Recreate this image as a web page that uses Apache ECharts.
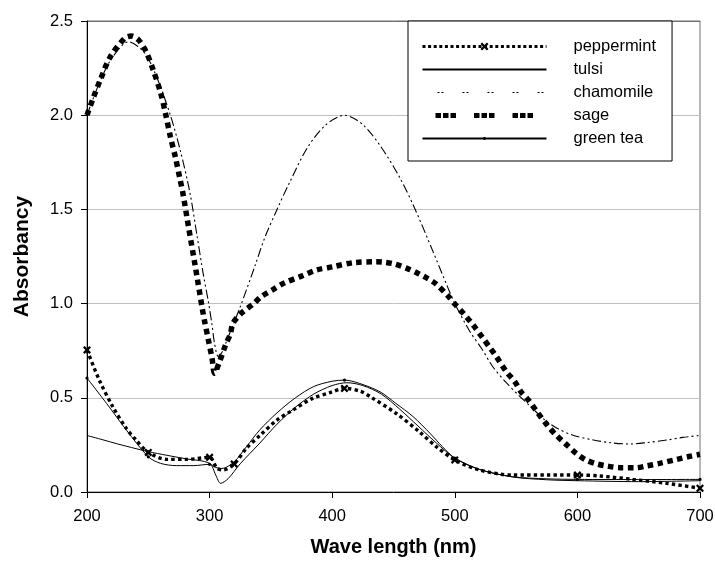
<!DOCTYPE html>
<html><head><meta charset="utf-8">
<script src="https://cdn.jsdelivr.net/npm/echarts@6/dist/echarts.min.js"></script>
<style>html,body{margin:0;padding:0;background:#fff}#c{width:715px;height:570px}</style>
</head><body><div id="c"></div>
<script>
// ---- data ----
const seriesNames = ['peppermint', 'tulsi', 'chamomile', 'sage', 'green tea'];

const pepX = [200,210,221,232,240,250,265,281,300,306,311,320,330,341,355,368,384,398,410,423,431,452,471,485,500,520,547,575,600,618,645,673,700];
const pepY = [0.754,0.594,0.453,0.338,0.276,0.21,0.173,0.173,0.184,0.126,0.117,0.149,0.232,0.30,0.382,0.435,0.497,0.527,0.55,0.535,0.506,0.418,0.32,0.24,0.17,0.117,0.09,0.09,0.09,0.085,0.067,0.046,0.02];
const pepMarks = [200,250,300,320,410,500,600,700];

const tulX = [200,213,225,240,250,265,280,300,305,309,315,325,341,355,370,385,400,412,425,440,455,470,485,500,520,547,575,600,650,700];
const tulY = [0.30,0.277,0.255,0.23,0.214,0.195,0.177,0.152,0.09,0.046,0.07,0.15,0.26,0.36,0.45,0.52,0.565,0.58,0.565,0.52,0.44,0.35,0.26,0.18,0.12,0.08,0.065,0.06,0.055,0.06];

const chaX = [200,210,220,234,247,257,268,276,284,290,295,299,302,304,307,310,315,325,337,345,355,365,380,395,410,425,440,455,467,482,494,500,512,522,531,542,553,564,572,583,597,613,629,643,656,673,686,700];
const chaY = [2.0,2.17,2.3,2.39,2.33,2.2,2.0,1.815,1.587,1.35,1.15,1.01,0.886,0.79,0.72,0.74,0.82,0.983,1.2,1.35,1.5,1.64,1.83,1.95,2.0,1.95,1.83,1.67,1.51,1.28,1.09,1.0,0.855,0.76,0.665,0.58,0.508,0.44,0.39,0.34,0.30,0.276,0.26,0.255,0.262,0.276,0.29,0.30];

const sagX = [200,205,211,219,231,236,242,248,254,260,264,268,272,276,278,283,288,294,296,299,302,304,308,313,317,319,326,336,342,352,361,375,387,401,417,435,442,451,461,469,476,484,495,500,507,515,523,529,534,542,549,554,560,567,576,583,590,599,607,616,624,635,648,656,667,681,690,700];
const sagY = [2.0,2.09,2.19,2.31,2.41,2.42,2.40,2.34,2.24,2.12,2.01,1.886,1.78,1.656,1.594,1.40,1.21,0.975,0.904,0.807,0.71,0.63,0.69,0.78,0.84,0.895,0.95,1.0,1.037,1.076,1.11,1.146,1.178,1.196,1.217,1.222,1.22,1.21,1.187,1.164,1.14,1.108,1.037,0.998,0.948,0.886,0.816,0.763,0.718,0.639,0.585,0.532,0.488,0.426,0.35,0.30,0.258,0.205,0.17,0.149,0.138,0.129,0.129,0.138,0.152,0.173,0.187,0.20];

const gtX = [200,216,232,250,260,273,287,300,305,310,320,330,341,355,370,385,400,410,422,439,452,466,480,490,500,520,547,575,600,650,700];
const gtY = [0.605,0.47,0.33,0.187,0.152,0.14,0.14,0.147,0.13,0.125,0.16,0.24,0.33,0.42,0.50,0.56,0.588,0.594,0.577,0.532,0.47,0.40,0.31,0.24,0.18,0.12,0.081,0.07,0.067,0.066,0.067];
const gtMarks = [200,250,300,410,500,600,700];

const xTicks = {min: 200, max: 700, step: 100};
const yTicks = {min: 0, max: 2.5, step: 0.5};

// ---- chart ----
function build(xs, ys, marks) {
  return xs.map((x, i) => (marks && marks.includes(x)) ? [x, ys[i]] : {value: [x, ys[i]], symbol: 'none'});
}
const FONT = '"Liberation Sans", Arial, sans-serif';
const xPath = 'path://M0,2L2,0L5,3L8,0L10,2L7,5L10,8L8,10L5,7L2,10L0,8L3,5Z';
const dotPath = 'path://M0,0L0.01,0M10,10L9.99,10M5,3.2A1.8,1.8,0,1,1,5,6.8A1.8,1.8,0,1,1,5,3.2Z';

const chart = echarts.init(document.getElementById('c'), null, {renderer: 'canvas'});
const base = {type: 'line', smooth: 0.3, animation: false, showAllSymbol: true, z: 2};
chart.setOption({
  animation: false,
  backgroundColor: '#fff',
  textStyle: {fontFamily: FONT, color: '#000'},
  grid: {left: 87, right: 15, top: 21, bottom: 78, show: true, borderColor: '#707070', borderWidth: 1, containLabel: false, outerBoundsMode: 'none'},
  xAxis: {
    type: 'value', min: xTicks.min, max: xTicks.max, interval: xTicks.step,
    name: 'Wave length (nm)', nameLocation: 'middle', nameGap: 45,
    nameTextStyle: {fontSize: 20, fontWeight: 'bold', color: '#000', fontFamily: FONT},
    axisLine: {show: true, onZero: false, lineStyle: {color: '#000', width: 1}},
    axisTick: {show: true, inside: false, length: 6, lineStyle: {color: '#000'}},
    axisLabel: {fontSize: 16.5, color: '#000', margin: 16, fontFamily: FONT},
    splitLine: {show: false}
  },
  yAxis: {
    type: 'value', min: yTicks.min, max: yTicks.max, interval: yTicks.step,
    name: 'Absorbancy', nameLocation: 'middle', nameGap: 54, nameRotate: 90,
    nameTextStyle: {fontSize: 21, fontWeight: 'bold', color: '#000', fontFamily: FONT},
    axisLine: {show: true, onZero: false, lineStyle: {color: '#000', width: 1}},
    axisTick: {show: true, inside: false, length: 6, lineStyle: {color: '#000'}},
    axisLabel: {fontSize: 16.5, color: '#000', margin: 14, fontFamily: FONT, formatter: v => v.toFixed(1)},
    splitLine: {show: true, lineStyle: {color: ['#c0c0c0','#c0c0c0','#c0c0c0','#c0c0c0','#c0c0c0','#707070'], width: 1}}
  },
  legend: {
    orient: 'vertical', left: 408, top: 21, padding: [17, 16, 14, 12],
    itemWidth: 124, itemHeight: 10, itemGap: 6,
    borderColor: '#000', borderWidth: 1, backgroundColor: '#fff',
    textStyle: {fontSize: 16.5, color: '#000', fontFamily: FONT, padding: [0, 0, 0, 22]},
    data: [
      {name: seriesNames[0], lineStyle: {type: [3, 2.6], width: 3}},
      {name: seriesNames[1], itemStyle: {opacity: 0}},
      {name: seriesNames[2], itemStyle: {opacity: 0}, lineStyle: {type: [2, 2, 2, 19], dashOffset: -15, width: 1.2}},
      {name: seriesNames[3], itemStyle: {opacity: 0}, lineStyle: {type: [5.5, 2, 5.5, 2, 5.5, 18], dashOffset: -13, width: 5}},
      {name: seriesNames[4]}
    ]
  },
  series: [
    Object.assign({}, base, {name: seriesNames[0], data: build(pepX, pepY, pepMarks), symbol: xPath, symbolSize: 8,
      itemStyle: {color: '#000'}, lineStyle: {color: '#000', width: 3.4, type: [3.4, 3.2], cap: 'butt'}}),
    Object.assign({}, base, {name: seriesNames[1], data: build(tulX, tulY), symbol: 'none',
      itemStyle: {color: '#000'}, lineStyle: {color: '#000', width: 1}}),
    Object.assign({}, base, {name: seriesNames[2], data: build(chaX, chaY), symbol: 'none',
      itemStyle: {color: '#000'}, lineStyle: {color: '#000', width: 1.1, type: [9, 3, 2, 3, 2, 3]}}),
    Object.assign({}, base, {name: seriesNames[3], data: build(sagX, sagY), symbol: 'none',
      itemStyle: {color: '#000'}, lineStyle: {color: '#000', width: 5.5, type: [5.5, 4.5], cap: 'butt'}}),
    Object.assign({}, base, {name: seriesNames[4], data: build(gtX, gtY, gtMarks), symbol: dotPath, symbolSize: 9,
      itemStyle: {color: '#000'}, lineStyle: {color: '#000', width: 1}})
  ]
});
</script></body></html>
